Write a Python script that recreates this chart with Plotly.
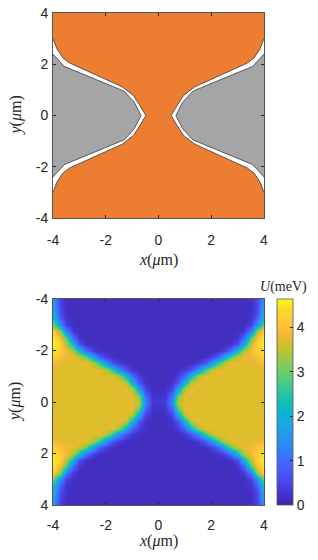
import plotly.graph_objects as go

# ---------------- data ----------------
# left-gate outline (upper half, from the left edge to the tip); mirrored in y and x
gate_x = [-4.0, -3.58, -1.30, -0.92, -0.66]
gate_y = [2.40, 1.92, 0.95, 0.52, 0.0]
# edge of the orange (2DEG) region around the gate (outer side of the white gap)
gap_x = [-4.0, -3.85, -3.62, -3.37, -1.38, -0.95, -0.70, -0.48]
gap_y = [3.00, 2.60, 2.24, 2.05, 1.12, 0.78, 0.38, 0.0]

# potential U (meV), one quadrant: rows |y| = 0..4, columns x = -4..0 (step 0.25)
x_q = [-4.0, -3.75, -3.5, -3.25, -3.0, -2.75, -2.5, -2.25, -2.0,
       -1.75, -1.5, -1.25, -1.0, -0.75, -0.5, -0.25, 0.0]
ay_q = [0.0, 0.25, 0.5, 0.75, 1.0, 1.25, 1.5, 1.75, 2.0,
        2.25, 2.5, 2.75, 3.0, 3.25, 3.5, 3.75, 4.0]
U_q = [
    [3.7, 3.7, 3.7, 3.7, 3.7, 3.7, 3.7, 3.7, 3.7, 3.7, 3.7, 3.7, 3.75, 3.5, 1.4, 0.35, 0.3],
    [3.7, 3.7, 3.7, 3.7, 3.7, 3.7, 3.7, 3.7, 3.7, 3.7, 3.7, 3.7, 3.8, 3.05, 1.0, 0.25, 0.22],
    [3.7, 3.7, 3.7, 3.7, 3.7, 3.7, 3.7, 3.7, 3.7, 3.7, 3.7, 3.8, 3.5, 1.8, 0.45, 0.18, 0.17],
    [3.7, 3.7, 3.7, 3.7, 3.7, 3.7, 3.7, 3.7, 3.7, 3.7, 3.8, 3.55, 2.15, 0.7, 0.25, 0.15, 0.15],
    [3.7, 3.7, 3.7, 3.7, 3.7, 3.7, 3.7, 3.7, 3.7, 3.8, 3.35, 2.15, 0.95, 0.37, 0.19, 0.15, 0.15],
    [3.7, 3.7, 3.7, 3.7, 3.7, 3.7, 3.7, 3.8, 3.5, 2.65, 1.45, 0.65, 0.3, 0.18, 0.15, 0.15, 0.15],
    [3.85, 3.75, 3.7, 3.7, 3.75, 3.8, 3.5, 2.7, 1.55, 0.7, 0.32, 0.19, 0.15, 0.15, 0.15, 0.15, 0.15],
    [4.25, 4.0, 3.8, 3.8, 3.6, 3.0, 1.8, 0.85, 0.37, 0.2, 0.15, 0.15, 0.15, 0.15, 0.15, 0.15, 0.15],
    [4.45, 4.2, 3.9, 3.45, 2.3, 1.0, 0.4, 0.2, 0.15, 0.15, 0.15, 0.15, 0.15, 0.15, 0.15, 0.15, 0.15],
    [4.6, 4.25, 3.5, 2.0, 0.6, 0.22, 0.15, 0.15, 0.15, 0.15, 0.15, 0.15, 0.15, 0.15, 0.15, 0.15, 0.15],
    [4.5, 4.0, 2.85, 1.0, 0.27, 0.15, 0.15, 0.15, 0.15, 0.15, 0.15, 0.15, 0.15, 0.15, 0.15, 0.15, 0.15],
    [4.2, 3.2, 1.2, 0.3, 0.18, 0.15, 0.15, 0.15, 0.15, 0.15, 0.15, 0.15, 0.15, 0.15, 0.15, 0.15, 0.15],
    [3.1, 1.5, 0.4, 0.18, 0.15, 0.15, 0.15, 0.15, 0.15, 0.15, 0.15, 0.15, 0.15, 0.15, 0.15, 0.15, 0.15],
    [2.3, 0.8, 0.25, 0.15, 0.15, 0.15, 0.15, 0.15, 0.15, 0.15, 0.15, 0.15, 0.15, 0.15, 0.15, 0.15, 0.15],
    [1.9, 0.55, 0.2, 0.15, 0.15, 0.15, 0.15, 0.15, 0.15, 0.15, 0.15, 0.15, 0.15, 0.15, 0.15, 0.15, 0.15],
    [1.7, 0.5, 0.18, 0.15, 0.15, 0.15, 0.15, 0.15, 0.15, 0.15, 0.15, 0.15, 0.15, 0.15, 0.15, 0.15, 0.15],
    [1.6, 0.45, 0.18, 0.15, 0.15, 0.15, 0.15, 0.15, 0.15, 0.15, 0.15, 0.15, 0.15, 0.15, 0.15, 0.15, 0.15],
]
U_max = 4.64
tick_vals = [-4, -2, 0, 2, 4]
tick_text = ["-4", "-2", "0", "2", "4"]
cbar_ticks = [0, 1, 2, 3, 4]

# ---------------- build symmetric arrays ----------------
x_full = x_q + [-v for v in reversed(x_q[:-1])]
y_full = [-v for v in reversed(ay_q)] + ay_q[1:]
z_full = []
for yv in y_full:
    row = U_q[ay_q.index(abs(yv))]
    z_full.append(row + row[-2::-1])


def outline(xs, ys, side):
    px = xs + list(reversed(xs))
    py = ys + [-v for v in reversed(ys)]
    if side > 0:
        px = [-v for v in px]
    return px, py


# MATLAB parula (64-entry table, subsampled)
parula = [
    (0, (62, 38, 168)), (4, (69, 55, 213)), (8, (72, 77, 240)), (12, (69, 99, 253)),
    (16, (50, 124, 252)), (20, (43, 145, 239)), (24, (32, 165, 227)), (28, (8, 181, 208)),
    (32, (25, 191, 182)), (36, (55, 200, 151)), (40, (100, 205, 111)), (44, (143, 203, 78)),
    (48, (197, 194, 42)), (50, (220, 189, 41)), (52, (240, 186, 54)), (53, (248, 186, 61)),
    (54, (254, 190, 60)), (56, (254, 200, 52)), (60, (247, 220, 41)), (63, (249, 251, 21)),
]
cscale = [[i / 63, "rgb(%d,%d,%d)" % c] for i, c in parula]

W, H = 318, 560
L, R = 53, 264
T1, B1 = 13, 218
T2, B2 = 299, 505

fig = go.Figure()

ORANGE = "#ED7D31"
GRAY = "#A5A5A5"
EDGE = "#3a3a3a"
TXT = "#262626"

for side in (-1, 1):
    px, py = outline(gap_x, gap_y, side)
    fig.add_trace(go.Scatter(x=px, y=py, fill="toself", fillcolor="white", mode="lines",
                             line=dict(color=EDGE, width=0.8), xaxis="x", yaxis="y",
                             showlegend=False, hoverinfo="skip"))
for side in (-1, 1):
    px, py = outline(gate_x, gate_y, side)
    fig.add_trace(go.Scatter(x=px, y=py, fill="toself", fillcolor=GRAY, mode="lines",
                             line=dict(color=EDGE, width=0.8), xaxis="x", yaxis="y",
                             showlegend=False, hoverinfo="skip"))

fig.add_trace(go.Heatmap(
    x=x_full, y=y_full, z=z_full, zmin=0, zmax=U_max, zsmooth="best",
    colorscale=cscale, xaxis="x2", yaxis="y2", hoverinfo="skip",
    colorbar=dict(
        x=277 / W, xanchor="left", xref="paper",
        y=1 - (T2 + B2) / 2 / H, yanchor="middle", yref="paper",
        len=(B2 - T2) / H, lenmode="fraction", thickness=16, thicknessmode="pixels",
        tickvals=cbar_ticks, ticks="inside", ticklen=3, tickcolor=TXT,
        outlinecolor="#555", outlinewidth=0.8,
        tickfont=dict(family="Liberation Sans, Arial, sans-serif", size=14, color=TXT),
        xpad=0, ypad=0,
    ),
))

fig.add_shape(type="rect", xref="x domain", yref="y domain", x0=0, x1=1, y0=0, y1=1,
              fillcolor=ORANGE, line=dict(width=0), layer="below")

axis_common = dict(
    ticks="inside", ticklen=3, tickwidth=1, automargin=False,
    tickcolor=TXT, showline=True, linecolor="#555", linewidth=0.8, mirror="ticks",
    showgrid=False, zeroline=False, tickvals=tick_vals, ticktext=tick_text,
    tickfont=dict(family="Liberation Sans, Arial, sans-serif", size=14, color=TXT),
)

fig.update_layout(
    template="none",
    width=W, height=H, margin=dict(l=0, r=0, t=0, b=0, autoexpand=False),
    paper_bgcolor="white", plot_bgcolor="white",
    xaxis=dict(domain=[L / W, R / W], anchor="y", range=[-4, 4], ticklabelstandoff=9,
               **axis_common),
    yaxis=dict(domain=[1 - B1 / H, 1 - T1 / H], anchor="x", range=[-4, 4],
               ticklabelstandoff=1, **axis_common),
    xaxis2=dict(domain=[L / W, R / W], anchor="y2", range=[-4, 4], ticklabelstandoff=7,
                **axis_common),
    yaxis2=dict(domain=[1 - B2 / H, 1 - T2 / H], anchor="x2", range=[4, -4],
                ticklabelstandoff=1, **axis_common),
)

serif = dict(family="Liberation Serif, Times New Roman, serif", size=16, color=TXT)
xlab = "<i>x</i>(<i>μ</i>m)"
ylab = "<i>y</i>(<i>μ</i>m)"
ann = [
    dict(x=(L + R) / 2 / W, y=1 - 260 / H, text=xlab, textangle=0),
    dict(x=(L + R) / 2 / W, y=1 - 541 / H, text=xlab, textangle=0),
    dict(x=15 / W, y=1 - (T1 + B1) / 2 / H, text=ylab, textangle=-90),
    dict(x=15 / W, y=1 - (T2 + B2) / 2 / H, text=ylab, textangle=-90),
]
for a in ann:
    fig.add_annotation(xref="paper", yref="paper", showarrow=False, font=serif,
                       xanchor="center", yanchor="middle", **a)
fig.add_annotation(xref="paper", yref="paper", x=309 / W, y=1 - 287 / H,
                   text="<i>U</i>(meV)", showarrow=False, xanchor="right", yanchor="middle",
                   font=dict(family="Liberation Serif, Times New Roman, serif", size=14,
                             color=TXT))

# remove the default 8px page margin so the figure sits at the window's top-left corner
fig.write_html("out.html", config={"displayModeBar": False},
               post_script="document.body.style.margin='0';document.body.style.overflow='hidden';")
